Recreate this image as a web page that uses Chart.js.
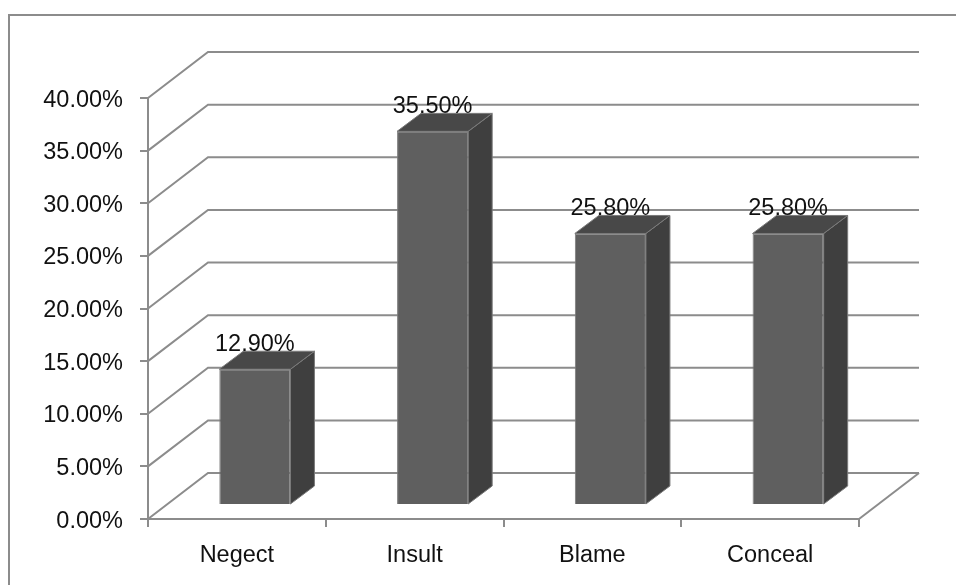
<!DOCTYPE html>
<html>
<head>
<meta charset="utf-8">
<style>
  html, body { margin: 0; padding: 0; background: #fff; }
  canvas { display: block; }
</style>
<script src="https://cdn.jsdelivr.net/npm/chart.js@4"></script>
</head>
<body>
<canvas id="c" width="956" height="585"></canvas>
<script>
const categories = ['Negect', 'Insult', 'Blame', 'Conceal'];
const values = [12.9, 35.5, 25.8, 25.8];
const valueLabels = ['12.90%', '35.50%', '25.80%', '25.80%'];

const LINE = '#8c8c8c';
const FONT = { family: '"Liberation Sans"', size: 23.5 };
const wall = { dx: 60, dy: -46 };   // back wall offset from the front axes
const bar = { dx: 18, dy: -14 };    // bars stand in the middle of the floor
const depth = { dx: 24, dy: -18 };  // how deep a bar is

const box3d = {
  id: 'box3d',
  beforeDraw(chart) {
    const ctx = chart.ctx;
    ctx.save();
    ctx.strokeStyle = LINE; ctx.lineWidth = 2;
    ctx.beginPath();
    ctx.moveTo(9, 585); ctx.lineTo(9, 15); ctx.lineTo(956, 15);
    ctx.stroke();
    ctx.restore();
  },
  beforeDatasetsDraw(chart) {
    const ctx = chart.ctx, y = chart.scales.y, a = chart.chartArea;
    ctx.save();
    ctx.strokeStyle = LINE; ctx.lineWidth = 2; ctx.lineJoin = 'miter';
    y.ticks.forEach(t => {
      const py = y.getPixelForValue(t.value);
      ctx.beginPath();
      ctx.moveTo(a.left, py);
      ctx.lineTo(a.left + wall.dx, py + wall.dy);
      ctx.lineTo(a.right + wall.dx, py + wall.dy);
      ctx.stroke();
    });
    ctx.beginPath();
    ctx.moveTo(a.right + wall.dx, a.bottom + wall.dy);
    ctx.lineTo(a.right, a.bottom);
    ctx.stroke();
    ctx.restore();

    // side and top faces go under the front face
    ctx.save();
    ctx.translate(bar.dx, bar.dy);
    ctx.strokeStyle = '#7a7a7a'; ctx.lineWidth = 1;
    chart.getDatasetMeta(0).data.forEach(el => {
      const l = el.x - el.width / 2, r = el.x + el.width / 2;
      ctx.fillStyle = '#3f3f3f';
      ctx.beginPath();
      ctx.moveTo(r, el.y); ctx.lineTo(r + depth.dx, el.y + depth.dy);
      ctx.lineTo(r + depth.dx, el.base + depth.dy); ctx.lineTo(r, el.base);
      ctx.closePath(); ctx.fill(); ctx.stroke();
      ctx.fillStyle = '#484848';
      ctx.beginPath();
      ctx.moveTo(l, el.y); ctx.lineTo(l + depth.dx, el.y + depth.dy);
      ctx.lineTo(r + depth.dx, el.y + depth.dy); ctx.lineTo(r, el.y);
      ctx.closePath(); ctx.fill(); ctx.stroke();
    });
    ctx.restore();

    ctx.save();
    ctx.translate(bar.dx, bar.dy);
  },
  afterDatasetsDraw(chart) {
    const ctx = chart.ctx, y = chart.scales.y;
    ctx.restore();
    ctx.save();
    ctx.fillStyle = '#111';
    ctx.font = FONT.size + 'px ' + FONT.family;
    ctx.textAlign = 'center';
    ctx.textBaseline = 'alphabetic';
    chart.getDatasetMeta(0).data.forEach((el, i) => {
      ctx.fillText(valueLabels[i], el.x + bar.dx, el.y + bar.dy - 18);
    });
    // y tick labels sit a little lower than the library would centre them
    ctx.textAlign = 'right';
    y.ticks.forEach(t => {
      ctx.fillText(t.label, 123, y.getPixelForValue(t.value) + 8.5);
    });
    ctx.restore();
  }
};

new Chart(document.getElementById('c'), {
  type: 'bar',
  data: {
    labels: categories,
    datasets: [{
      data: values,
      backgroundColor: '#5f5f5f',
      borderColor: '#7a7a7a',
      borderWidth: 1,
      categoryPercentage: 1,
      barPercentage: 0.4
    }]
  },
  options: {
    responsive: false,
    animation: false,
    layout: { padding: { top: 98, right: 97, left: 0, bottom: 0 } },
    plugins: { legend: { display: false }, tooltip: { enabled: false } },
    scales: {
      x: {
        afterFit: s => { s.height = 66; },
        border: { color: LINE, width: 2 },
        grid: { color: LINE, lineWidth: 2, drawOnChartArea: false, tickLength: 8 },
        ticks: { color: '#111', font: FONT, padding: 14, maxRotation: 0 }
      },
      y: {
        min: 0, max: 40,
        afterFit: s => { s.width = 148; },
        border: { color: LINE, width: 2 },
        grid: { color: LINE, lineWidth: 2, drawOnChartArea: false, tickLength: 8 },
        ticks: { display: false, stepSize: 5, callback: v => v.toFixed(2) + '%' }
      }
    }
  },
  plugins: [box3d]
});
</script>
</body>
</html>
